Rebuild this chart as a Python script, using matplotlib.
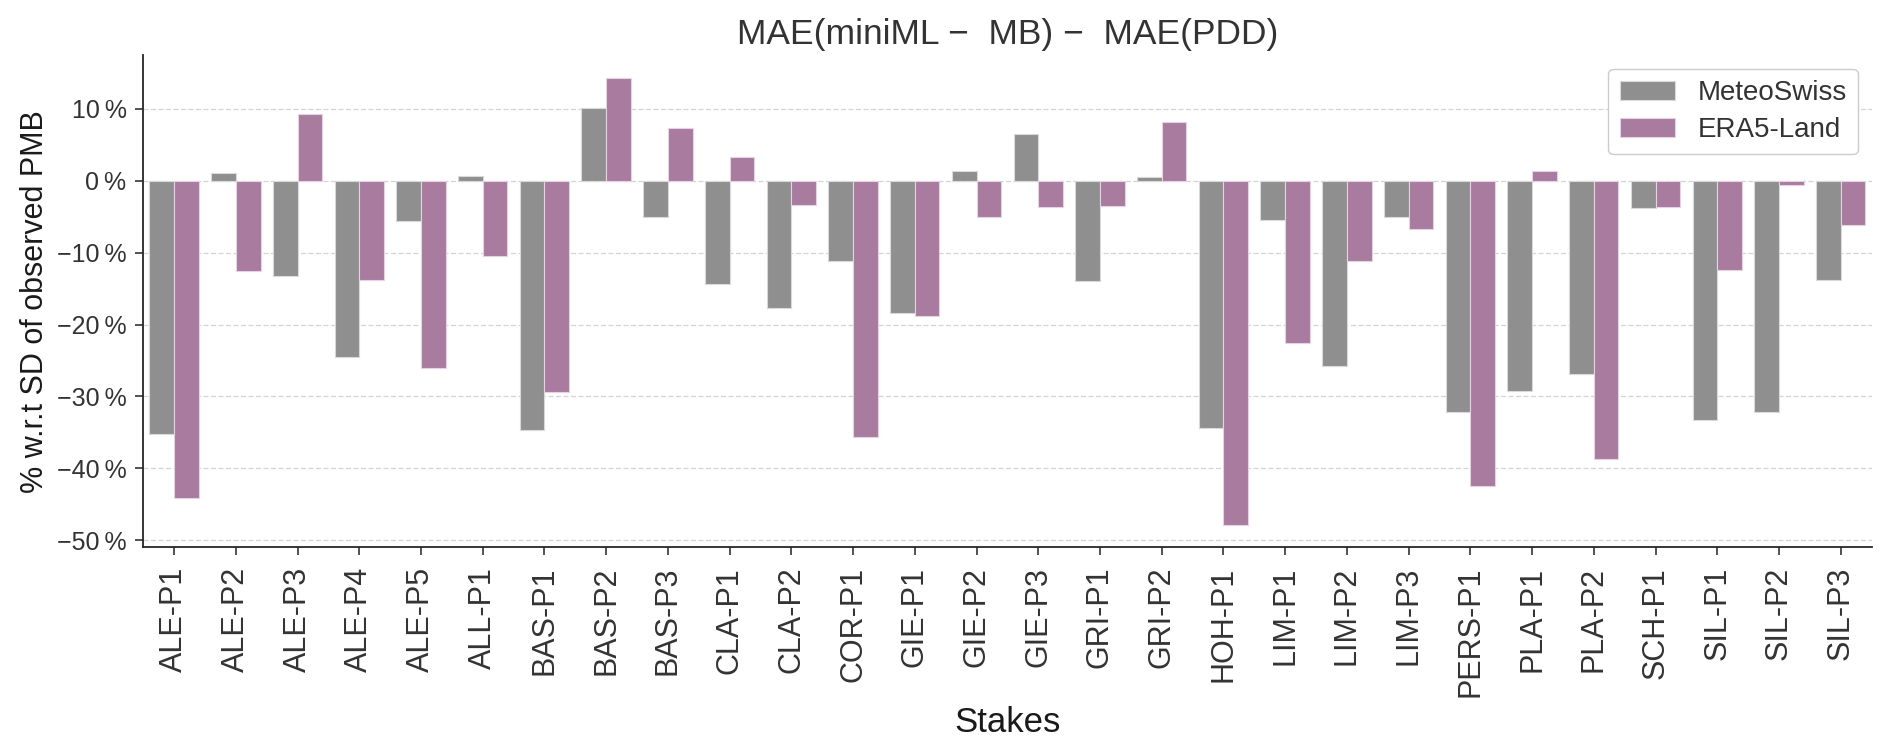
import numpy as np
import matplotlib
matplotlib.use("Agg")
import matplotlib.pyplot as plt
from matplotlib.ticker import FuncFormatter

plt.rcParams['font.family'] = ['Liberation Sans', 'DejaVu Sans']

# stakes on the x axis
stakes = ["ALE-P1", "ALE-P2", "ALE-P3", "ALE-P4", "ALE-P5", "ALL-P1",
          "BAS-P1", "BAS-P2", "BAS-P3", "CLA-P1", "CLA-P2", "COR-P1",
          "GIE-P1", "GIE-P2", "GIE-P3", "GRI-P1", "GRI-P2", "HOH-P1",
          "LIM-P1", "LIM-P2", "LIM-P3", "PERS-P1", "PLA-P1", "PLA-P2",
          "SCH-P1", "SIL-P1", "SIL-P2", "SIL-P3"]

# difference in % of SD of observed PMB, per forcing dataset
meteoswiss = [-35.2, 1.1, -13.3, -24.5, -5.6, 0.7, -34.7, 10.1, -5.1, -14.3,
              -17.7, -11.1, -18.4, 1.4, 6.5, -13.9, 0.5, -34.4, -5.4, -25.8,
              -5.0, -32.1, -29.2, -26.9, -3.8, -33.3, -32.2, -13.8]
era5_land = [-44.1, -12.6, 9.3, -13.8, -26.1, -10.4, -29.4, 14.3, 7.3, 3.3,
             -3.3, -35.7, -18.8, -5.1, -3.6, -3.5, 8.2, -47.9, -22.5, -11.2,
             -6.7, -42.5, 1.3, -38.7, -3.7, -12.4, -0.6, -6.2]

series_names = ["MeteoSwiss", "ERA5-Land"]
colors = ["#8f8f8f", "#a87b9f"]

fig = plt.figure(figsize=(18.92, 7.46), dpi=100)
ax = fig.add_axes([0.0757, 0.2663, 0.9135, 0.6599])

x = np.arange(len(stakes))
w = 0.4
ax.bar(x - w / 2, meteoswiss, width=w, color=colors[0], edgecolor="#d9d9d9",
       linewidth=0.8, label=series_names[0], zorder=2)
ax.bar(x + w / 2, era5_land, width=w, color=colors[1], edgecolor="#e6d3e1",
       linewidth=0.8, label=series_names[1], zorder=2)

ax.set_xlim(-0.5, len(stakes) - 0.5)
ax.set_ylim(-51.0, 17.5)
ax.set_yticks(np.arange(-50, 11, 10))
ax.yaxis.set_major_formatter(FuncFormatter(lambda v, p: f"{v:.0f}\u2009%".replace("-", "\u2212")))
ax.set_xticks(x)
ax.set_xticklabels(stakes, rotation=90)

text_col = "#333333"
ax.tick_params(axis="x", labelsize=22, length=6, width=1.2, pad=8, colors=text_col)
ax.tick_params(axis="y", labelsize=18, length=6, width=1.2, pad=6, colors=text_col)

# light dashed grid on y only
ax.set_axisbelow(True)
ax.yaxis.grid(True, color="#d4d4d4", linestyle=(0, (4, 2)), linewidth=0.9, zorder=3)

for s in ["top", "right"]:
    ax.spines[s].set_visible(False)
for s in ["left", "bottom"]:
    ax.spines[s].set_color("#262626")
    ax.spines[s].set_linewidth(1.3)

ax.set_title("MAE(miniML \u2212  MB) \u2212  MAE(PDD)", fontsize=25.5, color=text_col, pad=8)
ax.set_xlabel("Stakes", fontsize=25, color="#1a1a1a", labelpad=6)
ax.set_ylabel("% w.r.t SD of observed PMB", fontsize=22, color="#1a1a1a", labelpad=5)

leg = ax.legend(loc="upper right", fontsize=20, frameon=True, fancybox=True,
                edgecolor="#cccccc", framealpha=1.0, handlelength=2.0,
                handleheight=0.7, labelspacing=0.4, borderpad=0.4)
for t in leg.get_texts():
    t.set_color(text_col)

fig.savefig("out.png", dpi=100)
